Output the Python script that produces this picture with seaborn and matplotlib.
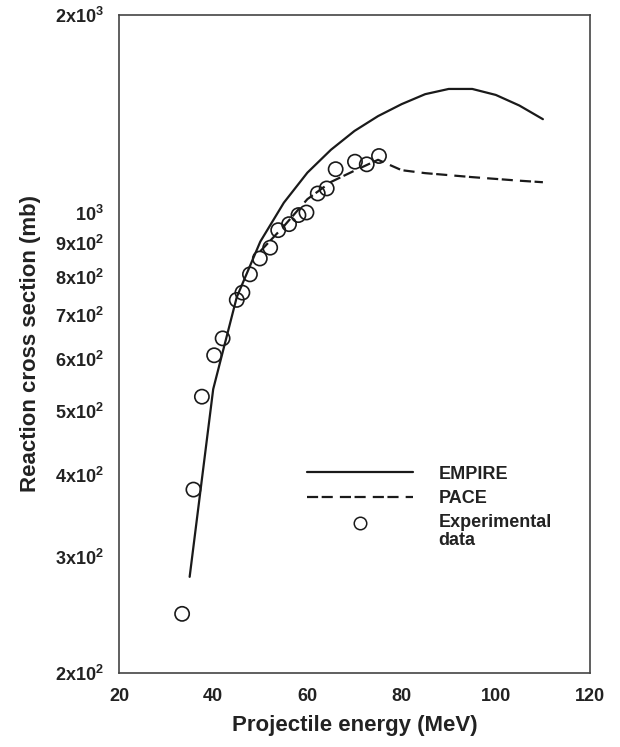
import matplotlib
matplotlib.use("Agg")
import matplotlib.pyplot as plt
from matplotlib.lines import Line2D
from matplotlib.ticker import FixedLocator, FixedFormatter, NullLocator
import seaborn as sns
import pandas as pd

# ---- data ----
empire_energy = [35, 40, 45, 50, 55, 60, 65, 70, 75, 80, 85, 90, 95, 100, 105, 110]
empire_xs = [280, 540, 745, 905, 1037, 1152, 1248, 1333, 1404, 1464, 1516, 1544, 1544, 1512, 1457, 1389]

pace_energy = [50, 55, 60, 65, 70, 75, 80, 85, 90, 95, 100, 105, 110]
pace_xs = [875, 955, 1050, 1115, 1160, 1205, 1162, 1150, 1142, 1134, 1127, 1120, 1114]

exp_energy = [33.4, 35.8, 37.6, 40.2, 42.0, 45.0, 46.2, 47.8, 49.9, 52.1, 53.8, 56.1,
              58.1, 59.8, 62.2, 64.1, 66.0, 70.1, 72.6, 75.2]
exp_xs = [246, 380, 526, 608, 645, 738, 757, 807, 853, 886, 942, 962,
          993, 1002, 1071, 1090, 1166, 1197, 1186, 1221]

y_ticks = [200, 300, 400, 500, 600, 700, 800, 900, 1000, 2000]
y_tick_labels = [r"$\mathbf{2x10^2}$", r"$\mathbf{3x10^2}$", r"$\mathbf{4x10^2}$",
                 r"$\mathbf{5x10^2}$", r"$\mathbf{6x10^2}$", r"$\mathbf{7x10^2}$",
                 r"$\mathbf{8x10^2}$", r"$\mathbf{9x10^2}$", r"$\mathbf{10^3}$",
                 r"$\mathbf{2x10^3}$"]
x_ticks = [20, 40, 60, 80, 100, 120]

df_emp = pd.DataFrame({"E": empire_energy, "xs": empire_xs})
df_pace = pd.DataFrame({"E": pace_energy, "xs": pace_xs})
df_exp = pd.DataFrame({"E": exp_energy, "xs": exp_xs})

# ---- style ----
sns.set_style("white")
plt.rcParams["font.family"] = ["Liberation Sans", "DejaVu Sans"]
plt.rcParams["font.weight"] = "bold"
plt.rcParams["mathtext.fontset"] = "custom"
plt.rcParams["mathtext.rm"] = "Liberation Sans:bold"
plt.rcParams["mathtext.bf"] = "Liberation Sans:bold"
plt.rcParams["mathtext.it"] = "Liberation Sans:bold"

fig = plt.figure(figsize=(6.2, 7.47), dpi=100)
ax = fig.add_axes([119 / 620, 1 - 673 / 747, 471 / 620, 658 / 747])

ink = "#1a1a1a"
dash = (5, 1.6, 5, 3.2)
sns.lineplot(data=df_emp, x="E", y="xs", ax=ax, color=ink, linewidth=1.6,
             estimator=None, sort=False)
sns.lineplot(data=df_pace, x="E", y="xs", ax=ax, color=ink, linewidth=1.6,
             estimator=None, sort=False)
ax.lines[1].set_dashes(dash)
sns.scatterplot(data=df_exp, x="E", y="xs", ax=ax, s=105, marker="o",
                facecolors="none", edgecolor=ink, linewidth=1.2, zorder=3)

ax.set_yscale("log")
ax.set_xlim(20, 120)
ax.set_ylim(200, 2000)

ax.yaxis.set_major_locator(FixedLocator(y_ticks))
ax.yaxis.set_major_formatter(FixedFormatter(y_tick_labels))
ax.yaxis.set_minor_locator(NullLocator())
ax.set_xticks(x_ticks)
ax.set_xticklabels([str(t) for t in x_ticks])

ax.tick_params(axis="both", which="major", direction="out", length=4, width=1,
               color="#333333", labelsize=13, pad=7)
for lbl in ax.get_xticklabels() + ax.get_yticklabels():
    lbl.set_fontweight("bold")
    lbl.set_color("#222222")

for sp in ax.spines.values():
    sp.set_visible(True)
    sp.set_color("#444444")
    sp.set_linewidth(1.2)

ax.set_xlabel("Projectile energy (MeV)", fontsize=16, fontweight="bold", labelpad=7,
              color="#222222")
ax.set_ylabel("Reaction cross section (mb)", fontsize=16, fontweight="bold", labelpad=10,
              color="#222222")

handles = [
    Line2D([], [], color=ink, linewidth=1.6),
    Line2D([], [], color=ink, linewidth=1.6, dashes=dash),
    Line2D([], [], color=ink, marker="o", markersize=9, markerfacecolor="none",
           markeredgewidth=1.1, linestyle="none"),
]
labels = ["EMPIRE", "PACE", "Experimental\ndata"]
leg = ax.legend(handles, labels, loc="upper left", bbox_to_anchor=(0.399, 0.315),
                frameon=False, handlelength=5.9, handletextpad=1.4, labelspacing=0.4,
                borderaxespad=0, borderpad=0, prop={"size": 13, "weight": "bold"})
for t in leg.get_texts():
    t.set_color("#222222")
    t.set_linespacing(1.05)
mk = leg.legend_handles[2]
mk.set_ydata([v + 6 for v in mk.get_ydata()])

fig.savefig("out.png", dpi=100)
